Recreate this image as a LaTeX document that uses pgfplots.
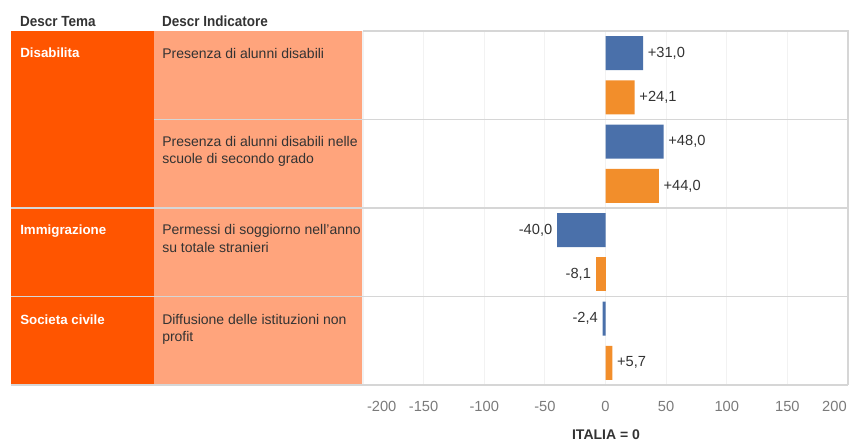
\documentclass[border=0pt]{standalone}
\usepackage{pgfplots}
\pgfplotsset{compat=1.18}
\usepackage{fontspec}
\setmainfont{Liberation Sans}
\definecolor{temaC}{HTML}{FF5500}
\definecolor{indC}{HTML}{FFA47C}
\definecolor{blueC}{HTML}{4A70AA}
\definecolor{oraC}{HTML}{F28E2B}
\definecolor{sepC}{HTML}{D6D6D6}
\definecolor{gridC}{HTML}{F2F2F2}
\definecolor{txtC}{HTML}{333333}
\definecolor{tickC}{HTML}{7A7A7A}
\newcommand\labf{\fontsize{10.5}{12.75}\selectfont}
\newcommand\valf{\fontsize{11}{13}\selectfont}
\begin{document}
\begin{tikzpicture}[x=0.75pt,y=0.75pt]
\useasboundingbox (0,0) rectangle (850,441);
\fill[temaC] (11,56) rectangle (154,410);
\fill[indC] (154,56) rectangle (363,410);
\begin{axis}[
  at={(272.25pt,42pt)}, anchor=south west,
  width=363.75pt, height=265.5pt, scale only axis,
  xmin=-200, xmax=200, ymin=0, ymax=8,
  axis line style={draw=none},
  ytick=\empty,
  xtick={-200,-150,-100,-50,0,50,100,150,200},
  xticklabels={\makebox[0pt][l]{\hspace{3pt}-200},-150,-100,-50,0,50,100,150,\makebox[0pt][r]{200\hspace{1pt}}},
  major tick length=0pt,
  xmajorgrids, major grid style={color=gridC, line width=0.8pt},
  xticklabel style={font=\valf, text=tickC, anchor=base, yshift=-19.7pt},
  xbar, bar width=0.77, bar shift=0pt,
  point meta=explicit symbolic,
  nodes near coords={\pgfplotspointmeta},
  every node near coord/.append style={font=\valf, text=txtC},
  clip=false]
\addplot[fill=blueC, draw=none, bar shift=0pt, every node near coord/.append style={anchor=west}]
  coordinates {(31.0,7.5) [+31{,}0] (48.0,5.5) [+48{,}0]};
\addplot[fill=blueC, draw=none, bar shift=0pt, every node near coord/.append style={anchor=east}]
  coordinates {(-40.0,3.5) [-40{,}0] (-2.4,1.5) [-2{,}4]};
\addplot[fill=oraC, draw=none, bar shift=0pt, every node near coord/.append style={anchor=west}]
  coordinates {(24.1,6.5) [+24{,}1] (44.0,4.5) [+44{,}0] (5.7,0.5) [+5{,}7]};
\addplot[fill=oraC, draw=none, bar shift=0pt, every node near coord/.append style={anchor=east}]
  coordinates {(-8.1,2.5) [-8{,}1]};
\end{axis}
% borders and separators
\draw[sepC, line width=1.1pt] (363,410) -- (848,410) -- (848,56);
\draw[sepC, line width=1.1pt] (11,56) -- (848,56);
\draw[sepC, line width=1.1pt] (154,321.5) -- (848,321.5);
\draw[sepC, line width=1.1pt] (11,233) -- (848,233);
\draw[sepC, line width=1.1pt] (11,144.5) -- (848,144.5);
% headers
\node[anchor=base west, inner sep=0, font=\fontsize{11}{13}\selectfont\bfseries, text=txtC, xscale=0.92] at (20,414.5) {Descr Tema};
\node[anchor=base west, inner sep=0, font=\fontsize{11}{13}\selectfont\bfseries, text=txtC, xscale=0.92] at (162,414.5) {Descr Indicatore};
% themes
\node[anchor=base west, inner sep=0, font=\fontsize{10}{12}\selectfont\bfseries, text=white] at (20,383) {Disabilita};
\node[anchor=base west, inner sep=0, font=\fontsize{10}{12}\selectfont\bfseries, text=white] at (20,206) {Immigrazione};
\node[anchor=base west, inner sep=0, font=\fontsize{10}{12}\selectfont\bfseries, text=white] at (20,116) {Societa civile};
% indicators
\node[anchor=base west, inner sep=0, font=\labf, text=txtC] at (162,382) {Presenza di alunni disabili};
\node[anchor=base west, inner sep=0, font=\labf, text=txtC] at (162,294) {Presenza di alunni disabili nelle};
\node[anchor=base west, inner sep=0, font=\labf, text=txtC] at (162,277) {scuole di secondo grado};
\node[anchor=base west, inner sep=0, font=\labf, text=txtC] at (162,206) {Permessi di soggiorno nell'anno};
\node[anchor=base west, inner sep=0, font=\labf, text=txtC] at (162,188) {su totale stranieri};
\node[anchor=base west, inner sep=0, font=\labf, text=txtC] at (162,116) {Diffusione delle istituzioni non};
\node[anchor=base west, inner sep=0, font=\labf, text=txtC] at (162,99) {profit};
% x label
\node[anchor=base, inner sep=0, font=\fontsize{10.5}{12}\selectfont\bfseries, text=txtC] at (606,1) {ITALIA = 0};
\end{tikzpicture}
\end{document}
